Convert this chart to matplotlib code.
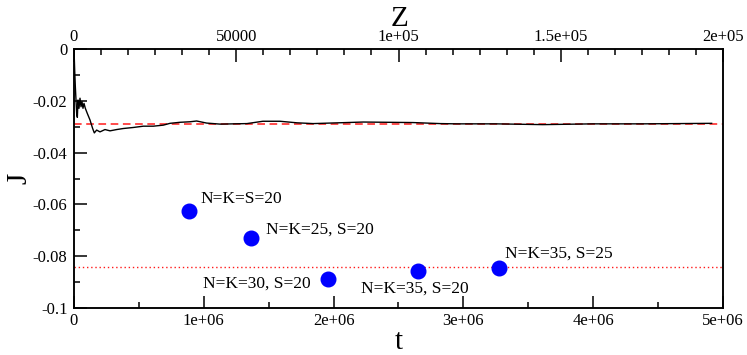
import matplotlib
matplotlib.use("Agg")
import matplotlib.pyplot as plt
from matplotlib.ticker import MultipleLocator, FixedLocator

plt.rcParams['font.family'] = ['Liberation Serif', 'DejaVu Serif']
plt.rcParams['axes.unicode_minus'] = False

# running estimate of J vs Z (top axis)
z_vals = [0, 205, 410, 616, 820, 1030, 1230, 1540, 1850, 2160, 2460, 2770, 3080,
          3490, 4110, 4930, 5750, 6260, 6980, 8010, 9550, 11100, 13150, 15200,
          18280, 21360, 24440, 27520, 29580, 32660, 35740, 37790, 40870, 45000,
          53300, 58200, 63500, 68700, 73700, 89100, 104500, 112800, 118000,
          130000, 144500, 160000, 175000, 186000, 196500]
j_vals = [0, -0.008, -0.0145, -0.0197, -0.0249, -0.0264, -0.0197, -0.0229, -0.019,
          -0.0223, -0.0203, -0.0229, -0.021, -0.0229, -0.0249, -0.0274, -0.0307,
          -0.0324, -0.0313, -0.032, -0.0311, -0.0316, -0.0311, -0.0307, -0.0303,
          -0.0298, -0.0298, -0.0294, -0.0287, -0.0283, -0.0281, -0.0278, -0.0286,
          -0.029, -0.0288, -0.0279, -0.0279, -0.0285, -0.0288, -0.0282, -0.0284,
          -0.0288, -0.0289, -0.0289, -0.0292, -0.0289, -0.0289, -0.0288, -0.0287]

j_dashed = -0.029
j_dotted = -0.0843

# simulation results vs t (bottom axis)
t_pts = [0.886e6, 1.364e6, 1.954e6, 2.648e6, 3.277e6]
j_pts = [-0.0625, -0.0729, -0.0887, -0.0857, -0.0844]
pt_labels = ['N=K=S=20', 'N=K=25, S=20', 'N=K=30, S=20', 'N=K=35, S=20', 'N=K=35, S=25']
label_t = [0.978e6, 1.479e6, 0.991e6, 2.211e6, 3.320e6]
label_j = [-0.0594, -0.0711, -0.0922, -0.0941, -0.0805]

t_ticks = [0, 1e6, 2e6, 3e6, 4e6, 5e6]
t_ticklabels = ['0', '1e+06', '2e+06', '3e+06', '4e+06', '5e+06']
z_ticks = [0, 50000, 100000, 150000, 200000]
z_ticklabels = ['0', '50000', '1e+05', '1.5e+05', '2e+05']
j_ticks = [0, -0.02, -0.04, -0.06, -0.08, -0.1]
j_ticklabels = ['0', '-0.02', '-0.04', '-0.06', '-0.08', '-0.1']

W, H = 747, 355
fig = plt.figure(figsize=(W / 100, H / 100), dpi=100)
ax = fig.add_axes([74 / W, 1 - 308 / H, 649 / W, 259 / H])
ax.set_xlim(0, 5e6)
ax.set_ylim(-0.1, 0)

ax.axhline(j_dashed, color='#ff1a1a', lw=1.1, ls=(0, (5, 3)))
ax.axhline(j_dotted, color='#ff1a1a', lw=1.0, ls=(0, (1, 2)))
ax.plot(t_pts, j_pts, 'o', color='#0000ff', ms=10.5, zorder=5)
for lx, ly, txt in zip(label_t, label_j, pt_labels):
    ax.text(lx, ly, txt, fontsize=12.5, ha='left', va='baseline')

ax.xaxis.set_major_locator(FixedLocator(t_ticks))
ax.set_xticklabels(t_ticklabels)
ax.xaxis.set_minor_locator(MultipleLocator(5e5))
ax.yaxis.set_major_locator(FixedLocator(j_ticks))
ax.set_yticklabels(j_ticklabels)
ax.yaxis.set_minor_locator(MultipleLocator(0.01))
ax.tick_params(which='both', direction='in', top=False, right=False, labelsize=12, width=1.1)
ax.tick_params(axis='x', which='major', length=9, pad=3.5)
ax.tick_params(axis='y', which='major', length=9, pad=4.7)
ax.tick_params(which='minor', length=4.5)
for s in ax.spines.values():
    s.set_linewidth(1.1)

ax2 = ax.twiny()
ax2.set_xlim(0, 2e5)
ax2.plot(z_vals, j_vals, color='black', lw=1.0)
ax2.xaxis.set_major_locator(FixedLocator(z_ticks))
ax2.set_xticklabels(z_ticklabels)
ax2.xaxis.set_minor_locator(MultipleLocator(50000 / 6))
ax2.tick_params(which='both', direction='in', labelsize=12, width=1.1)
ax2.tick_params(which='major', length=9, pad=3)
ax2.tick_params(which='minor', length=4.5)
for s in ax2.spines.values():
    s.set_linewidth(1.1)

# axis titles placed by hand, as in the original layout
fig.text(400 / W, 1 - 26 / H, 'Z', fontsize=21, ha='center', va='baseline')
fig.text(399 / W, 1 - 349 / H, 't', fontsize=21, ha='center', va='baseline')
fig.text(26 / W, 1 - 178 / H, 'J', fontsize=21, ha='center', va='baseline',
         rotation=90, rotation_mode='anchor')

fig.savefig('out.png', dpi=100)
